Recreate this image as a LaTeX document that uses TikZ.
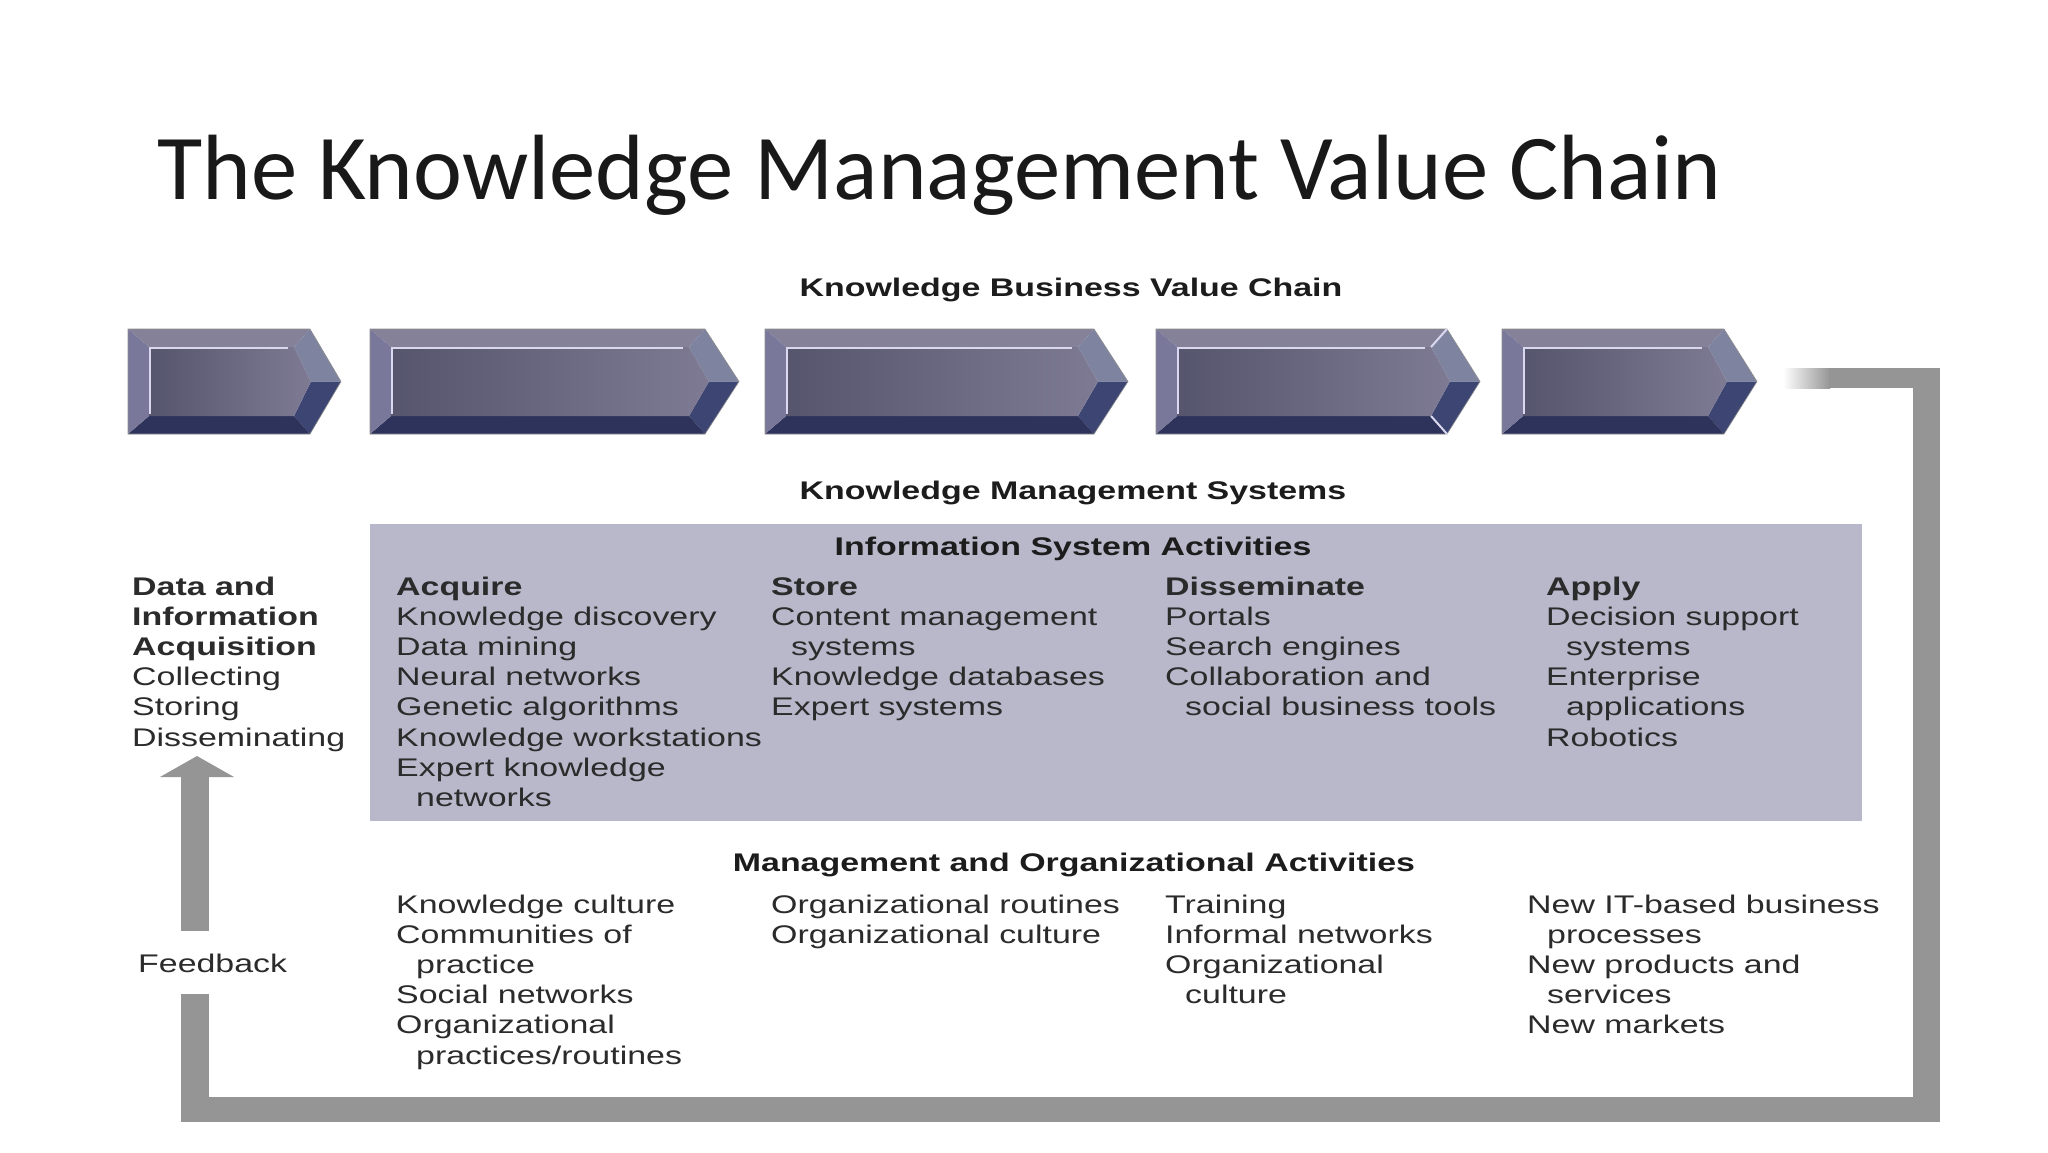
\documentclass[tikz,border=0pt]{standalone}
\usepackage{fontspec}
\setmainfont{Liberation Sans}
\newfontfamily\dfont[FakeStretch=1.33]{Liberation Sans}
\newfontfamily\tfont{Carlito}
\definecolor{txtc}{HTML}{2B2B2B}
\definecolor{hdc}{HTML}{1C1C1C}
\definecolor{isbox}{HTML}{B9B7CA}
\definecolor{band}{HTML}{959595}
\definecolor{cvtop}{HTML}{858199}
\definecolor{cvleft}{HTML}{7A789A}
\definecolor{cvbot}{HTML}{2D335A}
\definecolor{cvru}{HTML}{7E84A0}
\definecolor{cvrl}{HTML}{3D4673}
\definecolor{cvinl}{HTML}{56556E}
\definecolor{cvinr}{HTML}{7E7A93}
\definecolor{cvhi}{HTML}{DAD8EE}
\tikzset{
  txt/.style={font=\dfont\fontsize{25.5}{30}\selectfont, text=txtc, inner sep=0pt, anchor=base west},
  hd/.style={font=\dfont\bfseries\fontsize{25.5}{30}\selectfont, text=hdc, inner sep=0pt, anchor=base},
}
\newcommand\kmcol[4]{\foreach \t [count=\i from 0] in {#4}{\node[txt] (#1\i) at (#2,{#3+30.2*\i}) {\ignorespaces\t};}}
\newcommand\chev[4]{%
  \fill[cvtop] (#2,329) -- (#3,329) -- (#3-16,347) -- (#2+21,347) -- cycle;
  \fill[cvru] (#3,329) -- (#4,381.5) -- (#4-30,381.5) -- (#3-16,347) -- cycle;
  \fill[cvrl] (#4,381.5) -- (#3,434) -- (#3-16,416) -- (#4-30,381.5) -- cycle;
  \fill[cvbot] (#3,434) -- (#2,434) -- (#2+21,416) -- (#3-16,416) -- cycle;
  \fill[cvleft] (#2,329) -- (#2,434) -- (#2+21,416) -- (#2+21,347) -- cycle;
  \shade[left color=cvinl, right color=cvinr] (#2+21,347) -- (#3-16,347) -- (#4-30,381.5) -- (#3-16,416) -- (#2+21,416) -- cycle;
  \draw[cvhi, line width=2pt] (#2+22,414) -- (#2+22,348) -- (#3-22,348);
  \draw[black!45, line width=0.6pt] (#2,329) -- (#3,329) -- (#4,381.5) -- (#3,434) -- (#2,434) -- cycle;
  \coordinate (#1) at ({(#2+#4)/2},381.5);
}
\begin{document}
\begin{tikzpicture}[x=1pt,y=-1pt]
\useasboundingbox (0,0) rectangle (2048,1152);
\fill[white] (0,0) rectangle (2048,1152);

% title
\node[font=\tfont\fontsize{92.7}{100}\selectfont, text=black!90, inner sep=0pt, anchor=base west] (title) at (157,199) {The Knowledge Management Value Chain};

% headings
\node[hd] (kbvc) at (1071,296) {Knowledge Business Value Chain};

% chevrons
\chev{c1}{128}{310}{341}
\chev{c2}{370}{705}{739}
\chev{c3}{765}{1094}{1128}
\chev{c4}{1156}{1447}{1480}
\chev{c5}{1502}{1724}{1757}
\draw[cvhi, line width=2pt] (1447-16,347) -- (1447,329);
\draw[cvhi, line width=2pt] (1447-16,416) -- (1447,434);

\node[hd] (kms) at (1073,499) {Knowledge Management Systems};

% information system box
\node[fill=isbox, minimum width=1492pt, minimum height=297pt, inner sep=0pt, anchor=north west] (isa) at (370,524) {};
\node[hd] (isah) at (1073,555) {Information System Activities};

% feedback band
\shade[left color=white, right color=band] (1783,368) rectangle (1830,388);
\fill[band] (1829,368) rectangle (1940,388);
\fill[band] (1913,368) rectangle (1940,1122);
\fill[band] (181,1097) rectangle (1940,1122);
\fill[band] (181,994) rectangle (209,1122);
\fill[band] (181,774) rectangle (209,931);
\fill[band] (160,777) -- (234,777) -- (197,756) -- cycle;
\node[txt] (fb) at (138,972) {Feedback};

% left column
\kmcol{dl}{132}{595}{{\bfseries Data and},{\bfseries Information},{\bfseries Acquisition},Collecting,Storing,Disseminating}

% IS activities columns
\kmcol{ac}{396}{595}{{\bfseries Acquire},Knowledge discovery,Data mining,Neural networks,Genetic algorithms,Knowledge workstations,Expert knowledge,\hspace*{20pt}networks}
\kmcol{st}{771}{595}{{\bfseries Store},Content management,\hspace*{20pt}systems,Knowledge databases,Expert systems}
\kmcol{di}{1165}{595}{{\bfseries Disseminate},Portals,Search engines,Collaboration and,\hspace*{20pt}social business tools}
\kmcol{ap}{1546}{595}{{\bfseries Apply},Decision support,\hspace*{20pt}systems,Enterprise,\hspace*{20pt}applications,Robotics}

% management and organizational activities
\node[hd] (moa) at (1074,871) {Management and Organizational Activities};
\kmcol{m1}{396}{913}{Knowledge culture,Communities of,\hspace*{20pt}practice,Social networks,Organizational,\hspace*{20pt}practices/routines}
\kmcol{m2}{771}{913}{Organizational routines,Organizational culture}
\kmcol{m3}{1165}{913}{Training,Informal networks,Organizational,\hspace*{20pt}culture}
\kmcol{m4}{1527}{913}{New IT-based business,\hspace*{20pt}processes,New products and,\hspace*{20pt}services,New markets}
\end{tikzpicture}
\end{document}
